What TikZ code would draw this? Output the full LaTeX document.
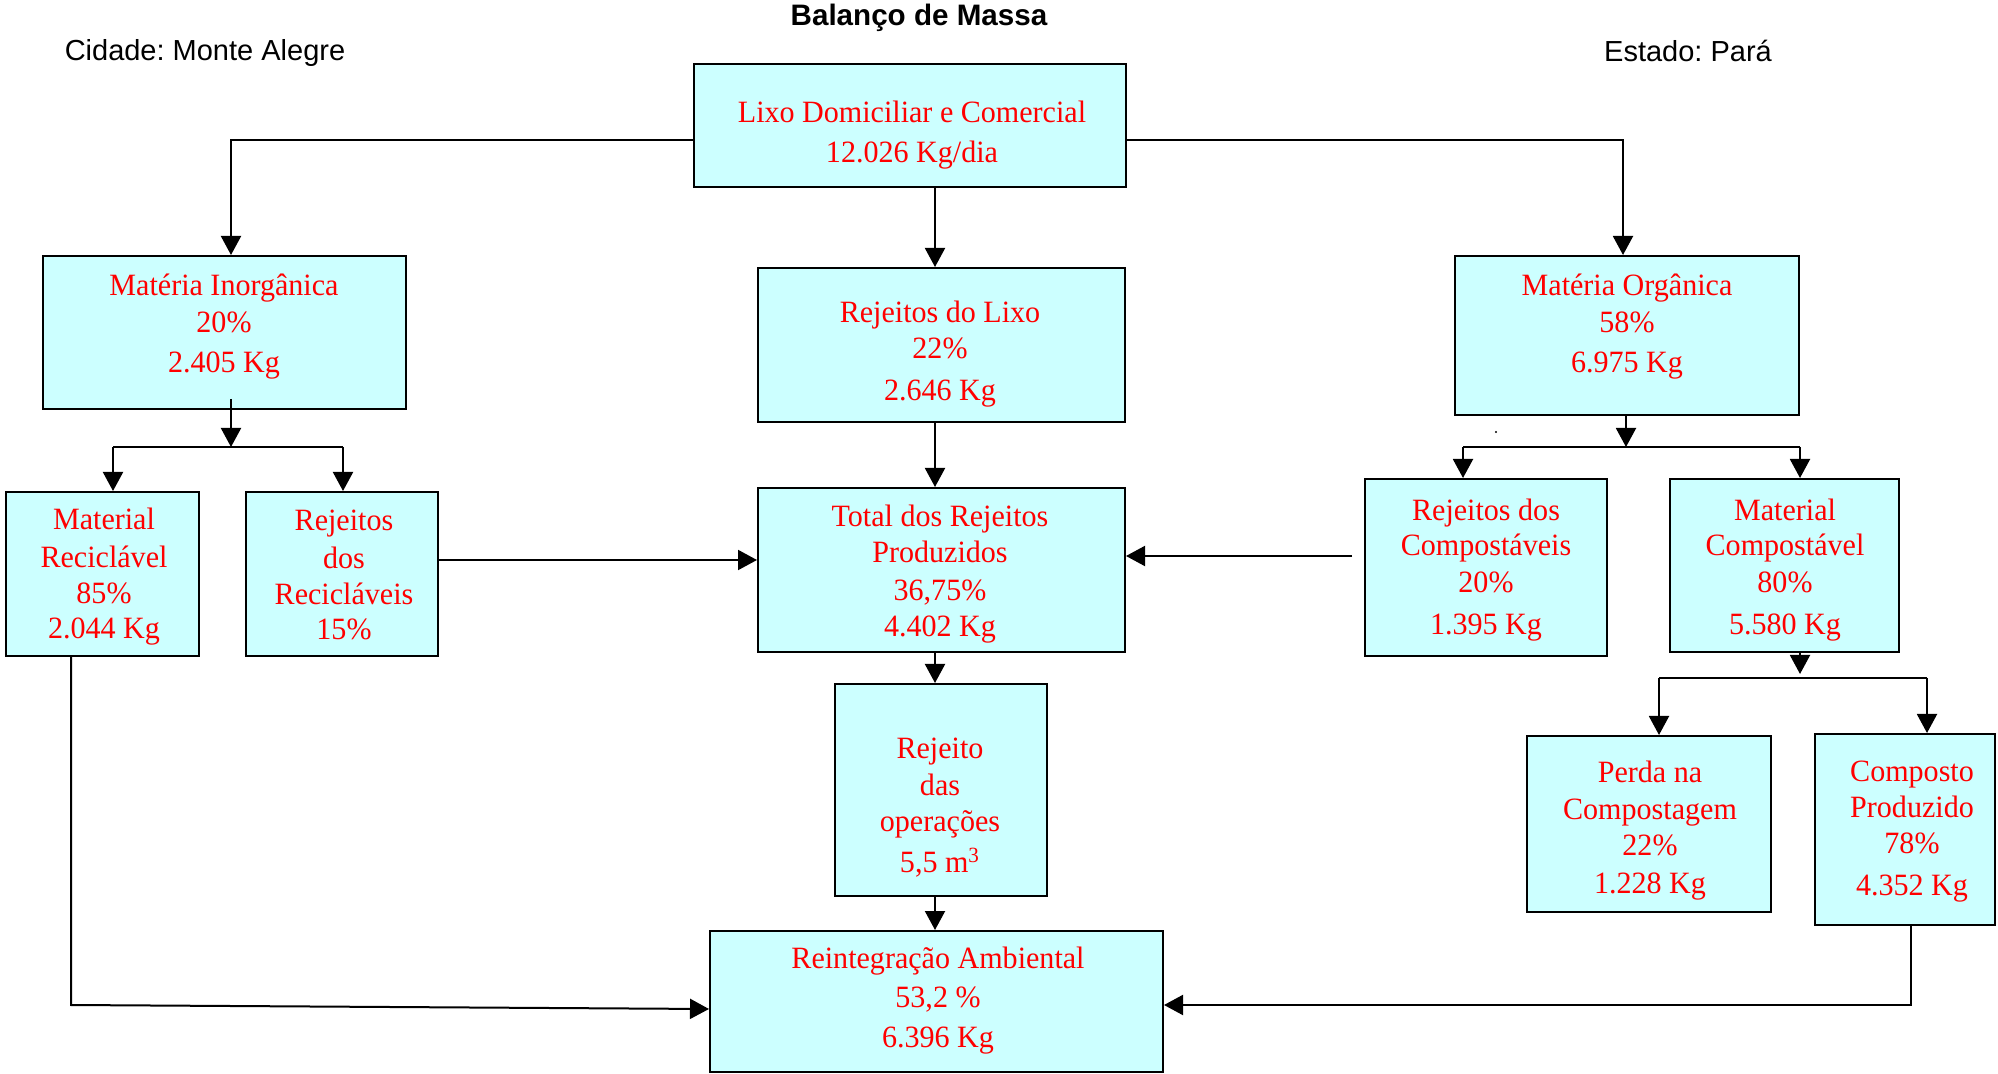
\documentclass[tikz,border=0pt]{standalone}
\usepackage{fontspec}
\setmainfont{Liberation Serif}
\newfontfamily\boxfont[FakeStretch=0.97]{Liberation Serif}
\newfontfamily\headfont{Liberation Sans}
\usetikzlibrary{arrows.meta}
\definecolor{boxfill}{HTML}{CCFFFF}
\definecolor{boxred}{HTML}{FF0000}
\frenchspacing
\tikzset{
  box/.style={draw=black, line width=1pt, fill=boxfill, rectangle, inner sep=0pt},
  txt/.style={text=boxred, font=\boxfont\fontsize{15.5pt}{18pt}\selectfont, align=center, inner sep=0pt},
  conn/.style={line width=1pt, draw=black},
  arr/.style={conn, -{Triangle[length=9.5pt,width=10pt]}},
  head/.style={font=\headfont\fontsize{14.5pt}{17pt}\selectfont, inner sep=0pt},
  headbold/.style={font=\headfont\bfseries\fontsize{14.8pt}{17pt}\selectfont, inner sep=0pt},
}
\newcommand\boxnode[5]{\node[box, minimum width={(#4-#2)*0.5pt}, minimum height={(#5-#3)*0.5pt}] (#1) at ({(#2+#4)/2},{(#3+#5)/2}) {};}
\begin{document}
\frenchspacing
\begin{tikzpicture}[x=0.5pt, y=-0.5pt]
\useasboundingbox (0,0) rectangle (1998,1074);
\fill[white] (0,0) rectangle (1998,1074);

% boxes
\boxnode{lixo}{694}{64}{1126}{187}
\boxnode{inorg}{43}{256}{406}{409}
\boxnode{rejlixo}{758}{268}{1125}{422}
\boxnode{org}{1455}{256}{1799}{415}
\boxnode{matrec}{6}{492}{199}{656}
\boxnode{rejrec}{246}{492}{438}{656}
\boxnode{total}{758}{488}{1125}{652}
\boxnode{rejcomp}{1365}{479}{1607}{656}
\boxnode{matcomp}{1670}{479}{1899}{652}
\boxnode{ops}{835}{684}{1047}{896}
\boxnode{reint}{710}{931}{1163}{1072}
\boxnode{perda}{1527}{736}{1771}{912}
\boxnode{composto}{1815}{734}{1995}{925}

% headings
\node[headbold] (title) at (919,18) {Balanço de Massa};
\node[head] (cidade) at (205,53) {Cidade:\ Monte Alegre};
\node[head] (estado) at (1688,51) {Estado: Pará};

% box texts
\node[txt] (lixo-t) at (912,135) {Lixo Domiciliar e Comercial\\[2pt]12.026 Kg/dia};
\node[txt] (inorg-t) at (224,327) {Matéria Inorgânica\\[0.5pt]20\%\\[2pt]2.405 Kg};
\node[txt] (rejlixo-t) at (940,354) {Rejeitos do Lixo\\22\%\\[3pt]2.646 Kg};
\node[txt] (org-t) at (1627,327) {Matéria Orgânica\\[0.5pt]58\%\\[2pt]6.975 Kg};
\node[txt] (matrec-t) at (104,577) {Material\\[1pt]Reciclável\\85\%\\[-0.5pt]2.044 Kg};
\node[txt] (rejrec-t) at (344,575) {Rejeitos\\[1pt]dos\\Recicláveis\\[-0.5pt]15\%};
\node[txt] (total-t) at (940,574) {Total dos Rejeitos\\Produzidos\\[1pt]36,75\%\\4.402 Kg};
\node[txt] (rejcomp-t) at (1486,570) {Rejeitos dos\\[-0.5pt]Compostáveis\\[0.5pt]20\%\\[3pt]1.395 Kg};
\node[txt] (matcomp-t) at (1785,570) {Material\\[-0.5pt]Compostável\\[0.5pt]80\%\\[3pt]5.580 Kg};
\node[txt] (ops-t) at (940,808) {Rejeito\\[0.5pt]das\\operações\\[2.5pt]5,5 m\textsuperscript{3}};
\node[txt] (reint-t) at (938,1001) {Reintegração Ambiental\\[1.5pt]53,2 \%\\[2pt]6.396 Kg};
\node[txt] (perda-t) at (1650,831) {Perda na\\[0.5pt]Compostagem\\22\%\\[1pt]1.228 Kg};
\node[txt] (composto-t) at (1912,832) {Composto\\Produzido\\78\%\\[3pt]4.352 Kg};

% coordinates for connector routing
\coordinate (cL) at (231,140);
\coordinate (cR) at (1623,140);
\coordinate (cM) at (935,0);
\coordinate (iS) at (231,447);
\coordinate (iT) at (231,399);
\coordinate (iA) at (113,447);
\coordinate (iB) at (343,447);
\coordinate (oS) at (1626,447);
\coordinate (oA) at (1463,447);
\coordinate (oB) at (1800,447);
\coordinate (mS) at (1800,674);
\coordinate (mA) at (1659,678);
\coordinate (mB) at (1927,678);
\coordinate (rrY) at (0,560);
\coordinate (rc) at (1352,556);
\coordinate (rec1) at (71,1005);
\coordinate (rec2) at (0,1009);
\coordinate (cp) at (1911,1005);

% connectors
\draw[arr] (lixo.west |- cL) -- (cL) -- (cL |- inorg.north);
\draw[arr] (lixo.east |- cR) -- (cR) -- (cR |- org.north);
\draw[arr] (cM |- lixo.south) -- (cM |- rejlixo.north);
\draw[arr] (cM |- rejlixo.south) -- (cM |- total.north);
\draw[arr] (cM |- total.south) -- (cM |- ops.north);
\draw[arr] (cM |- ops.south) -- (cM |- reint.north);

\draw[arr] (iT) -- (iS);
\draw[conn] (iA) -- (iB);
\draw[arr] (iA) -- (iA |- matrec.north);
\draw[arr] (iB) -- (iB |- rejrec.north);

\draw[arr] (oS |- org.south) -- (oS);
\draw[conn] (oA) -- (oB);
\draw[arr] (oA) -- (oA |- rejcomp.north);
\draw[arr] (oB) -- (oB |- matcomp.north);

\draw[arr] (mS |- matcomp.south) -- (mS);
\draw[conn] (mA) -- (mB);
\draw[arr] (mA) -- (mA |- perda.north);
\draw[arr] (mB) -- (mB |- composto.north);

\draw[arr] (rejrec.east |- rrY) -- (total.west |- rrY);
\draw[arr] (rc) -- (total.east |- rc);

\draw[arr] (rec1 |- matrec.south) -- (rec1) -- (reint.west |- rec2);
\draw[arr] (cp |- composto.south) -- (cp) -- (reint.east |- cp);

\fill (1496,432) circle (1.2);
\end{tikzpicture}
\end{document}
